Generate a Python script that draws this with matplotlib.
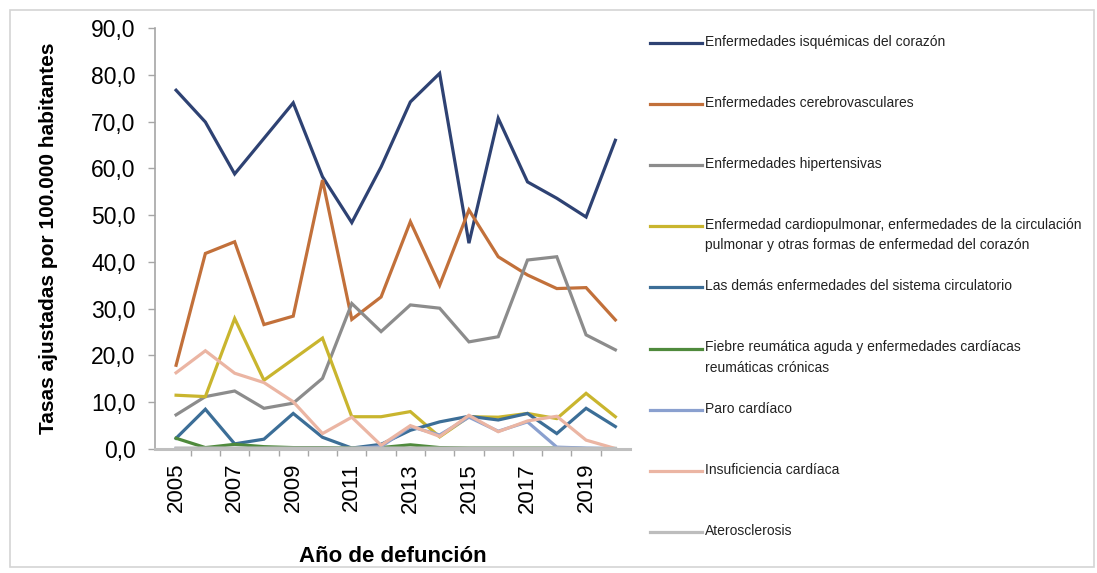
import numpy as np
import matplotlib.pyplot as plt
from matplotlib.lines import Line2D
from matplotlib.patches import Rectangle
from matplotlib.ticker import FuncFormatter, FixedLocator

plt.rcParams['font.family'] = ['Liberation Sans', 'DejaVu Sans']

# Data (tasas ajustadas por 100.000 habitantes)
years = list(range(2005, 2021))
isquemicas = [76.7, 69.9, 58.8, 66.4, 74.0, 58.2, 48.4, 60.3, 74.2, 80.3, 44.0, 70.7, 57.1, 53.6, 49.6, 66.0]
cerebrovasc = [17.9, 41.8, 44.3, 26.6, 28.4, 57.5, 27.7, 32.5, 48.6, 35.0, 51.1, 41.1, 37.2, 34.3, 34.5, 27.6]
hipertensivas = [7.3, 11.2, 12.4, 8.7, 9.8, 15.1, 31.1, 25.1, 30.8, 30.1, 22.9, 24.0, 40.4, 41.1, 24.4, 21.2]
cardiopulmonar = [11.5, 11.2, 27.9, 14.7, 19.2, 23.7, 6.9, 6.9, 8.0, 2.6, 6.9, 6.8, 7.6, 6.5, 11.9, 6.9]
demas = [2.3, 8.5, 1.1, 2.1, 7.6, 2.5, 0.2, 1.0, 4.0, 5.8, 7.0, 6.2, 7.6, 3.3, 8.7, 4.8]
fiebre = [2.3, 0.3, 1.0, 0.5, 0.3, 0.3, 0.2, 0.3, 0.9, 0.3, 0.2, 0.2, 0.2, 0.2, 0.1, 0.1]
paro = [0.1, 0.1, 0.1, 0.1, 0.1, 0.1, 0.1, 0.5, 4.8, 3.0, 6.8, 3.8, 5.8, 0.4, 0.2, 0.1]
insuficiencia = [16.3, 21.0, 16.2, 14.2, 10.1, 3.3, 6.8, 0.8, 5.0, 2.7, 7.2, 3.7, 6.0, 7.0, 1.9, 0.1]
aterosclerosis = [0.2, 0.2, 0.2, 0.2, 0.2, 0.2, 0.2, 0.2, 0.2, 0.2, 0.2, 0.2, 0.2, 0.2, 0.1, 0.1]

labels = [
    "Enfermedades isquémicas del corazón",
    "Enfermedades cerebrovasculares",
    "Enfermedades hipertensivas",
    "Enfermedad cardiopulmonar, enfermedades de la circulación\npulmonar y otras formas de enfermedad del corazón",
    "Las demás enfermedades del sistema circulatorio",
    "Fiebre reumática aguda y enfermedades cardíacas\nreumáticas crónicas",
    "Paro cardíaco",
    "Insuficiencia cardíaca",
    "Aterosclerosis",
]
series = [isquemicas, cerebrovasc, hipertensivas, cardiopulmonar, demas,
          fiebre, paro, insuficiencia, aterosclerosis]
colors = ["#2E4273", "#C2703A", "#8C8C8C", "#C9B52E", "#3C6E97",
          "#4F8A3C", "#8AA0CF", "#EBB5A3", "#BDBDBD"]

W, H = 1097, 573
fig = plt.figure(figsize=(W / 100, H / 100), dpi=100)
fig.patches.append(Rectangle((10 / W, 6 / H), 1084 / W, 557 / H, transform=fig.transFigure,
                             fill=False, edgecolor="#D4D4D4", linewidth=1.2))

ax = fig.add_axes([155 / W, 1 - 449 / H, (630 - 155) / W, (449 - 28) / H])

# draw lines
for vals, c in zip(series, colors):
    ax.plot(years, vals, color=c, linewidth=2.3, solid_joinstyle='miter')

ax.set_xlim(2004.28, 2020.5)
ax.set_ylim(0, 90)
ax.set_yticks(np.arange(0, 91, 10))
ax.yaxis.set_major_formatter(FuncFormatter(lambda v, p: f"{v:.1f}".replace('.', ',')))

ax.xaxis.set_major_locator(FixedLocator(years[::2]))
ax.xaxis.set_minor_locator(FixedLocator([y + 0.5 for y in years[:-1]]))
ax.tick_params(axis='x', which='major', length=0, labelsize=16, labelrotation=90, pad=10)
ax.tick_params(axis='x', which='minor', length=5, color="#A6A6A6", width=1, direction='out')
ax.tick_params(axis='y', length=5, color="#A6A6A6", width=1, labelsize=16.5, pad=9)

for s in ['top', 'right']:
    ax.spines[s].set_visible(False)
ax.spines['left'].set_color("#A6A6A6")
ax.spines['left'].set_linewidth(1.2)
ax.spines['bottom'].set_color("#BFBFBF")
ax.spines['bottom'].set_linewidth(2.2)

ax.set_ylabel("Tasas ajustadas por 100.000 habitantes", fontsize=15, fontweight='bold', labelpad=24)
ax.set_xlabel("Año de defunción", fontsize=16, fontweight='bold', labelpad=24)

# legend, Excel style: handle aligned with the first text line
y0, step = 43, 61.1
for i, (lab, c) in enumerate(zip(labels, colors)):
    yp = 1 - (y0 + i * step) / H
    fig.add_artist(Line2D([650 / W, 702 / W], [yp, yp], transform=fig.transFigure,
                          color=c, linewidth=2.3))
    fig.text(705 / W, yp + 8 / H, lab, fontsize=10, va='top', ha='left',
             linespacing=1.55, color="#222222")

fig.savefig("out.png", dpi=100)
